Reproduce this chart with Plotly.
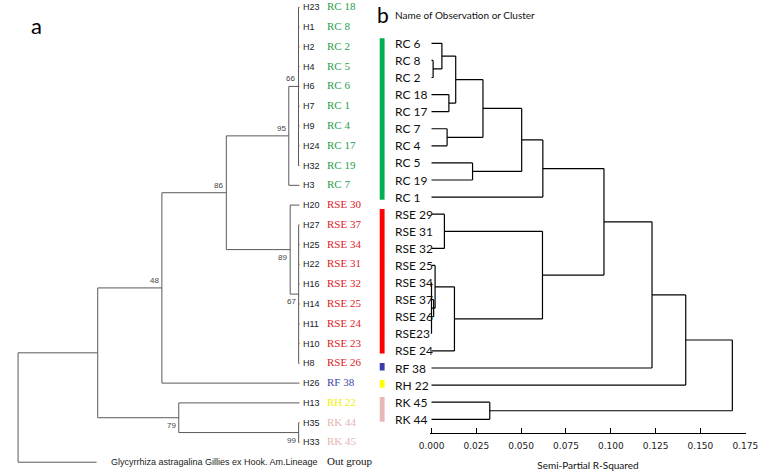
import plotly.graph_objects as go

# ---------------- Panel a: haplotype tree ----------------
a_haplotypes = ["H23", "H1", "H2", "H4", "H6", "H7", "H9", "H24", "H32", "H3",
                "H20", "H27", "H25", "H22", "H16", "H14", "H11", "H10", "H8",
                "H26", "H13", "H35", "H33"]
a_samples = ["RC 18", "RC 8", "RC 2", "RC 5", "RC 6", "RC 1", "RC 4", "RC 17", "RC 19", "RC 7",
             "RSE 30", "RSE 37", "RSE 34", "RSE 31", "RSE 32", "RSE 25", "RSE 24", "RSE 23", "RSE 26",
             "RF 38", "RH 22", "RK 44", "RK 45"]
a_groups = ["RC"] * 10 + ["RSE"] * 9 + ["RF", "RH", "RK", "RK"]
outgroup_name = "Glycyrrhiza astragalina Gillies ex Hook. Am.Lineage"
outgroup_label = "Out group"
outgroup_depth = 0.279
# (node depth, bootstrap, children); ints are leaf indices, 23 = out group
tree_a = (0.0, None, [
    (0.283, None, [
        (0.511, 48, [
            (0.740, 86, [
                (0.962, 95, [(0.9965, 66, [0, 1, 2, 3, 4, 5, 6, 7, 8]), 9]),
                (0.967, 89, [10, (0.997, 67, [11, 12, 13, 14, 15, 16, 17, 18])]),
            ]),
            19,
        ]),
        (0.571, 79, [20, (0.997, 99, [21, 22])]),
    ]),
    23,
])
bootstrap_side = {66: "above", 95: "above", 86: "above", 48: "above",
                  89: "below", 67: "below", 79: "below", 99: "below"}

# ---------------- Panel b: Ward dendrogram ----------------
b_leaves = ["RC 6", "RC 8", "RC 2", "RC 18", "RC 17", "RC 7", "RC 4", "RC 5", "RC 19", "RC 1",
            "RSE 29", "RSE 31", "RSE 32", "RSE 25", "RSE 34", "RSE 37", "RSE 26", "RSE23", "RSE 24",
            "RF 38", "RH 22", "RK 45", "RK 44"]
b_groups = ["RC"] * 10 + ["RSE"] * 9 + ["RF", "RH", "RK", "RK"]
# (left, right, semi-partial R-squared); strings = leaves, ints = earlier merge number (23 + k)
b_merges = [
    ("RC 8", "RC 2", 0.0009),      # 23
    ("RC 6", 23, 0.0058),          # 24
    ("RC 18", "RC 17", 0.0097),    # 25
    (24, 25, 0.0135),              # 26
    ("RC 7", "RC 4", 0.0087),      # 27
    (26, 27, 0.0287),              # 28
    ("RC 5", "RC 19", 0.0229),     # 29
    (28, 29, 0.0503),              # 30
    (30, "RC 1", 0.0621),          # 31
    ("RSE 29", "RSE 32", 0.0072),  # 32
    ("RSE 34", "RSE23", 0.0000),   # 33
    ("RSE 37", "RSE 26", 0.0012),  # 34
    (33, 34, 0.0006),              # 35
    ("RSE 25", 35, 0.0020),        # 36
    (36, "RSE 24", 0.0128),        # 37
    (32, 37, 0.0619),              # 38
    (31, 38, 0.0962),              # 39
    (39, "RF 38", 0.1230),         # 40
    (40, "RH 22", 0.1418),         # 41
    ("RK 45", "RK 44", 0.0325),    # 42
    (41, 42, 0.1678),              # 43
]
b_ticks = [0.0, 0.025, 0.05, 0.075, 0.1, 0.125, 0.15, 0.175]

text_colors = {"RC": "#1f9e4b", "RSE": "#e0201e", "RF": "#3b47a8", "RH": "#f2f200", "RK": "#e3b5b3"}
bar_colors = {"RC": "#00b050", "RSE": "#ff0000", "RF": "#3a3aa8", "RH": "#ffff00", "RK": "#e6b8b7"}

W, H = 776, 474
fig = go.Figure()

# ---------- draw panel a ----------
ax_x, ax_y = [], []
ann = []
node_bounds = []


def walk(node):
    """returns (y, depth) of node; appends branch segments"""
    if isinstance(node, int):
        d = outgroup_depth if node == 23 else 1.0
        return float(node), d
    depth, boot, children = node
    pts = [walk(c) for c in children]
    ys = [p[0] for p in pts]
    y0, y1 = min(ys), max(ys)
    ax_x.extend([depth, depth, None]); ax_y.extend([y0, y1, None])
    for (cy, cd) in pts:
        ax_x.extend([depth, cd, None]); ax_y.extend([cy, cy, None])
    ymid = (y0 + y1) / 2
    node_bounds.append((depth, ymid, boot))
    return ymid, depth


walk(tree_a)
fig.add_trace(go.Scatter(x=ax_x, y=ax_y, mode="lines", line=dict(color="#5a5a5a", width=1),
                         xaxis="x", yaxis="y", hoverinfo="skip", showlegend=False))

for depth, ymid, boot in node_bounds:
    if boot is None:
        continue
    above = bootstrap_side[boot] == "above"
    ann.append(dict(x=depth, y=ymid, xref="x", yref="y", text=str(boot), showarrow=False,
                    xanchor="right", yanchor="bottom" if above else "top",
                    xshift=-1, yshift=1 if above else -1,
                    font=dict(family="Liberation Sans", size=8, color="#444444")))

for i, (h, s, g) in enumerate(zip(a_haplotypes, a_samples, a_groups)):
    ann.append(dict(x=1.0, y=i, xref="x", yref="y", text=h, showarrow=False, xanchor="left",
                    xshift=1.5, font=dict(family="Liberation Sans", size=9, color="#222222")))
    ann.append(dict(x=1.0, y=i, xref="x", yref="y", text=s, showarrow=False, xanchor="left",
                    xshift=26, yshift=1, font=dict(family="Liberation Serif", size=11, color=text_colors[g])))
ann.append(dict(x=1.0, y=23, xref="x", yref="y", text=outgroup_name, showarrow=False, xanchor="right",
                xshift=21, font=dict(family="Liberation Sans", size=9, color="#222222")))
ann.append(dict(x=1.0, y=23, xref="x", yref="y", text=outgroup_label, showarrow=False, xanchor="left",
                xshift=26, yshift=1, font=dict(family="Liberation Serif", size=11, color="#111111")))

# ---------- draw panel b ----------
pos = {name: (float(i), 0.0) for i, name in enumerate(b_leaves)}
n = len(b_leaves)
bx, by = [], []
for k, (l, r, h) in enumerate(b_merges):
    yl, hl = pos[l]
    yr, hr = pos[r]
    bx.extend([hl, h, None, hr, h, None, h, h, None])
    by.extend([yl, yl, None, yr, yr, None, yl, yr, None])
    pos[n + k] = ((yl + yr) / 2, h)
fig.add_trace(go.Scatter(x=bx, y=by, mode="lines", line=dict(color="#000000", width=1.2),
                         xaxis="x2", yaxis="y2", hoverinfo="skip", showlegend=False))

for i, name in enumerate(b_leaves):
    ann.append(dict(x=0, y=i, xref="x2", yref="y2", text=name, showarrow=False, xanchor="left",
                    xshift=-39, font=dict(family="Lato", size=12, color="#111111")))

shapes = []
for g in ["RC", "RSE", "RF", "RH", "RK"]:
    idx = [i for i, gg in enumerate(b_groups) if gg == g]
    shapes.append(dict(type="rect", xref="paper", yref="y2", x0=380 / W, x1=385 / W,
                       y0=min(idx) - 0.3, y1=max(idx) + 0.15,
                       fillcolor=bar_colors[g], line=dict(width=0)))

ann.append(dict(x=26.7 / W, y=1 - 25.5 / H, xref="paper", yref="paper", text="a", showarrow=False,
                xanchor="center", yanchor="middle",
                font=dict(family="Lato", size=22, color="#000000")))
ann.append(dict(x=383 / W, y=1 - 14.5 / H, xref="paper", yref="paper", text="b", showarrow=False,
                xanchor="center", yanchor="middle",
                font=dict(family="Lato", size=21, color="#000000")))
ann.append(dict(x=394 / W, y=1 - 15 / H, xref="paper", yref="paper", text="Name of Observation or Cluster",
                showarrow=False, xanchor="left", yanchor="middle",
                font=dict(family="Lato", size=10, color="#111111")))

fig.update_layout(
    width=W, height=H, margin=dict(l=0, r=0, t=0, b=0),
    paper_bgcolor="white", plot_bgcolor="rgba(0,0,0,0)",
    xaxis=dict(domain=[0, 0.5], range=[-0.02517, 1.3128], visible=False, anchor="y"),
    yaxis=dict(domain=[0, 1], range=[23.595, -0.369], visible=False, anchor="x"),
    xaxis2=dict(domain=[431.5 / W, 757.6 / W], range=[-0.001, 0.1755], anchor="y2",
                showline=True, linecolor="#000000", linewidth=1.2, ticks="inside", ticklen=5,
                tickcolor="#000000", tickvals=b_ticks, tickformat=".3f", showgrid=False, zeroline=False,
                ticklabelstandoff=4,
                tickfont=dict(family="DejaVu Sans", size=9, color="#222222"),
                title=dict(text="Semi-Partial R-Squared", standoff=11,
                           font=dict(family="Lato", size=10, color="#111111"))),
    yaxis2=dict(domain=[1 - 433.3 / H, 1 - 30 / H], range=[22.82, -0.778], visible=False, anchor="x2"),
    annotations=ann, shapes=shapes,
)

fig.write_html("out.html", config={"displayModeBar": False},
               post_script="document.body.style.margin='0';document.body.style.overflow='hidden';")
